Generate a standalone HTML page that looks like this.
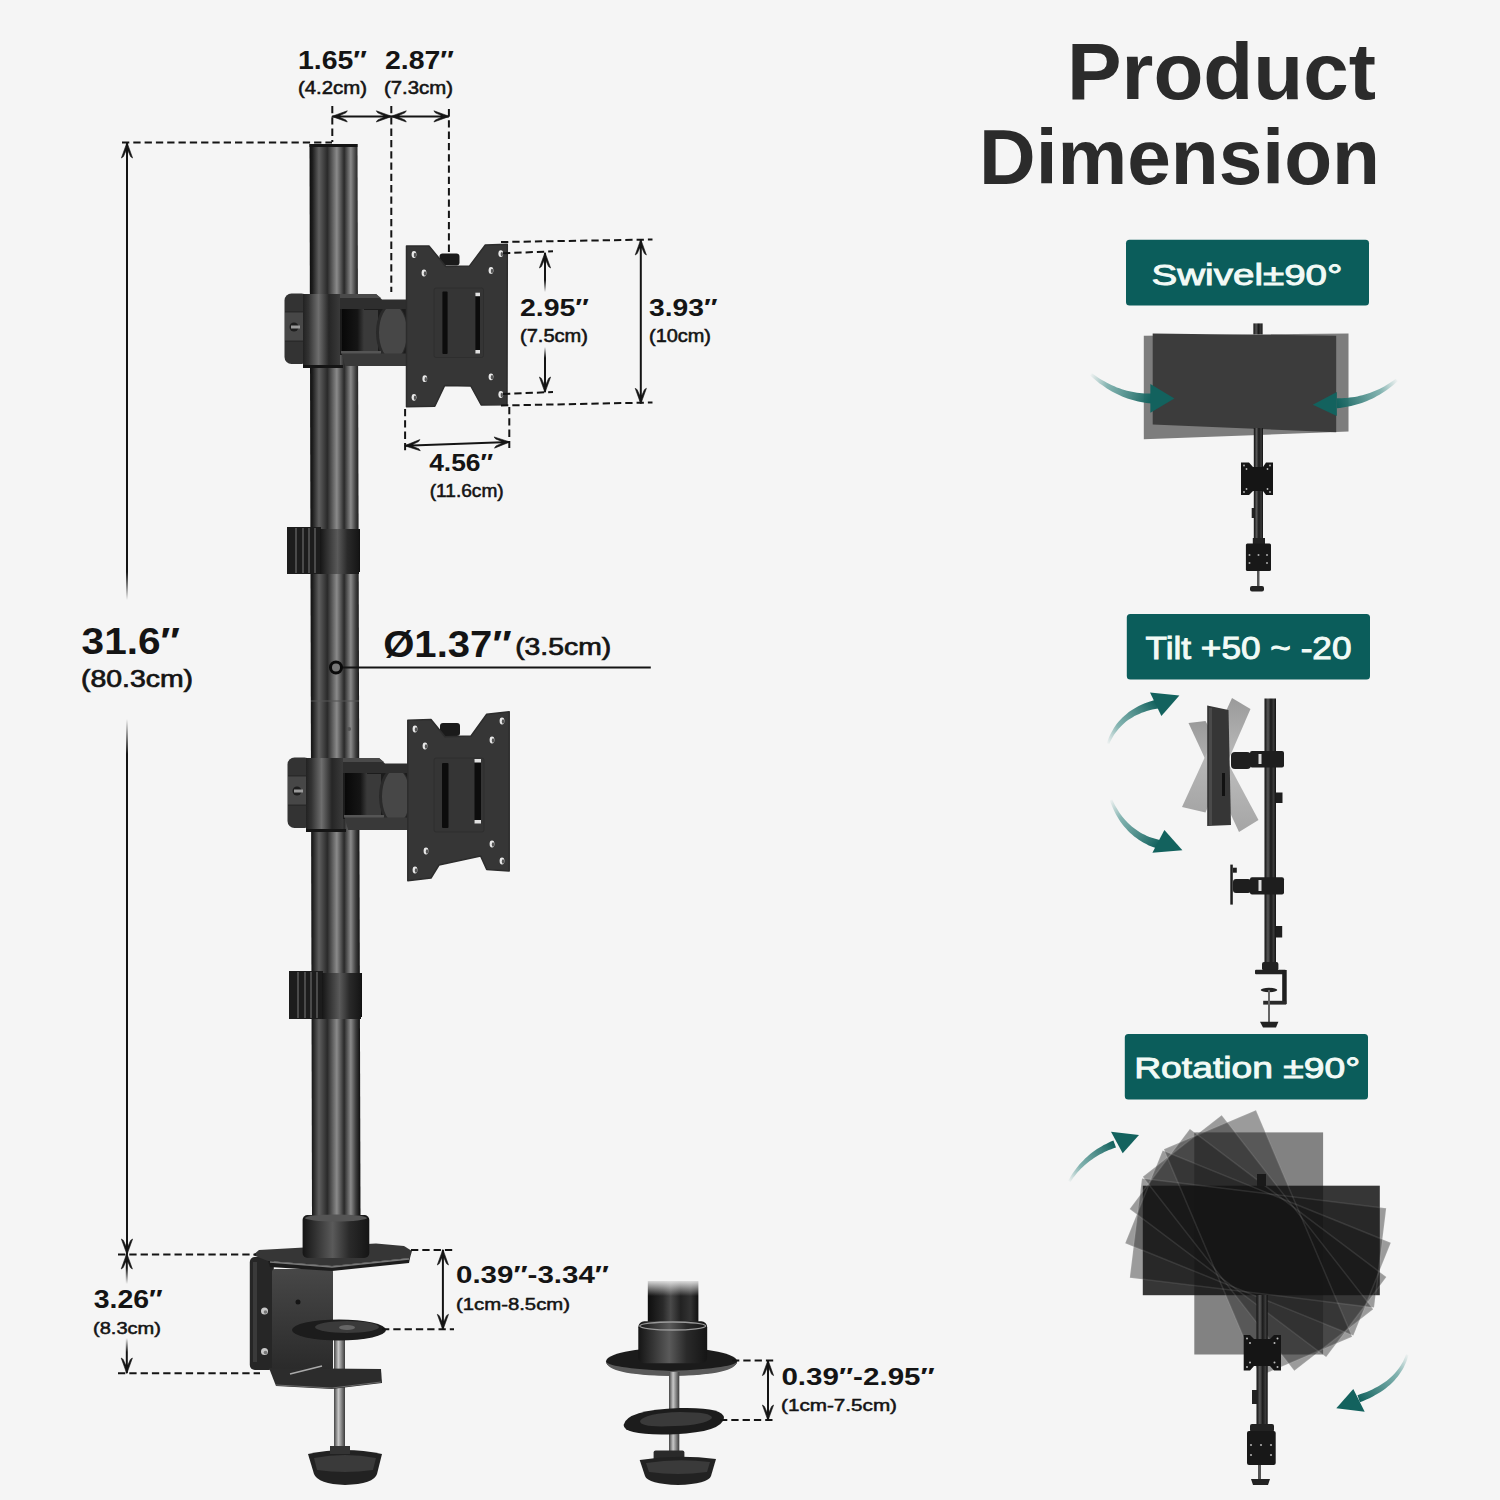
<!DOCTYPE html>
<html><head><meta charset="utf-8"><title>Product Dimension</title>
<style>
html,body{margin:0;padding:0;background:#f5f5f5;}
body{width:1500px;height:1500px;overflow:hidden;position:relative;}
svg{position:absolute;left:0;top:0;display:block;}
text{font-family:"Liberation Sans",sans-serif;}
</style></head><body>
<svg width="1500" height="1500" viewBox="0 0 1500 1500">
<defs>
<linearGradient id="pole" x1="0" x2="1" y1="0" y2="0">
 <stop offset="0" stop-color="#0c0c0c"/><stop offset="0.06" stop-color="#1e1e1e"/>
 <stop offset="0.185" stop-color="#5f5f5f"/><stop offset="0.35" stop-color="#2a2a2a"/>
 <stop offset="0.535" stop-color="#8a8a8a"/><stop offset="0.68" stop-color="#2a2a2a"/>
 <stop offset="0.81" stop-color="#8a8a8a"/><stop offset="0.91" stop-color="#3c3c3c"/><stop offset="1" stop-color="#0a0a0a"/>
</linearGradient>
<linearGradient id="cyl" x1="0" x2="1" y1="0" y2="0">
 <stop offset="0" stop-color="#151515"/><stop offset="0.2" stop-color="#333"/>
 <stop offset="0.45" stop-color="#5a5a5a"/><stop offset="0.7" stop-color="#2a2a2a"/>
 <stop offset="1" stop-color="#151515"/>
</linearGradient>
<linearGradient id="ln1" gradientUnits="userSpaceOnUse" x1="0" y1="572" x2="0" y2="600"><stop offset="0" stop-color="#141414"/><stop offset="1" stop-color="#141414" stop-opacity="0"/></linearGradient>
<linearGradient id="ln2" gradientUnits="userSpaceOnUse" x1="0" y1="719" x2="0" y2="754"><stop offset="0" stop-color="#141414" stop-opacity="0"/><stop offset="1" stop-color="#141414"/></linearGradient>
<linearGradient id="blk" x1="0" x2="1" y1="0" y2="0"><stop offset="0" stop-color="#080808"/><stop offset="0.7" stop-color="#151515"/><stop offset="1" stop-color="#3a3a3a"/></linearGradient>
<linearGradient id="cyl2" x1="0" x2="1" y1="0" y2="0"><stop offset="0" stop-color="#222"/><stop offset="0.15" stop-color="#333"/><stop offset="0.42" stop-color="#6e6e6e"/><stop offset="0.7" stop-color="#262626"/><stop offset="1" stop-color="#3a3a3a"/></linearGradient>
<linearGradient id="spole" x1="0" x2="1" y1="0" y2="0"><stop offset="0" stop-color="#0e0e0e"/><stop offset="0.3" stop-color="#575757"/><stop offset="0.55" stop-color="#1a1a1a"/><stop offset="0.8" stop-color="#3a3a3a"/><stop offset="1" stop-color="#101010"/></linearGradient>
<linearGradient id="fadeV" x1="0" x2="0" y1="0" y2="1">
 <stop offset="0" stop-color="#f5f5f5" stop-opacity="1"/><stop offset="1" stop-color="#f5f5f5" stop-opacity="0"/>
</linearGradient>
<linearGradient id="tealL" x1="0" x2="1" y1="0" y2="0">
 <stop offset="0" stop-color="#1a6b68" stop-opacity="0"/><stop offset="0.6" stop-color="#1a6b68" stop-opacity="0.85"/><stop offset="1" stop-color="#11605d"/>
</linearGradient>
<linearGradient id="tealR" x1="1" x2="0" y1="0" y2="0">
 <stop offset="0" stop-color="#1a6b68" stop-opacity="0"/><stop offset="0.6" stop-color="#1a6b68" stop-opacity="0.85"/><stop offset="1" stop-color="#11605d"/>
</linearGradient>
</defs>
<rect width="1500" height="1500" fill="#f5f5f5"/>

<polygon points="309.5,144 357.5,144 360.5,1218 312,1218" fill="url(#pole)"/>
<line x1="311" y1="701" x2="359" y2="701" stroke="#555" stroke-width="1.2"/>
<rect x="309.5" y="144" width="48" height="3" fill="#141414"/>
<circle cx="349" cy="729" r="2" fill="#555"/>
<g transform="translate(0,0)"><rect x="284.5" y="293.5" width="24" height="70.5" rx="7" fill="#333"/><rect x="285" y="312" width="20" height="29" fill="#474747"/><rect x="285" y="311" width="20" height="1.5" fill="#2a2a2a"/><rect x="285" y="340.5" width="20" height="1.5" fill="#2a2a2a"/><circle cx="294" cy="327" r="4.5" fill="#1e1e1e"/><rect x="291" y="325.5" width="9" height="3" fill="#9a9a9a"/><rect x="338" y="305" width="69" height="50" fill="#1c1c1c"/><rect x="342" y="308" width="22" height="44" fill="url(#blk)"/><rect x="364" y="310" width="14" height="41" fill="#3a3a3a"/><ellipse cx="392" cy="332.5" rx="16" ry="29" fill="#2a2a2a"/><ellipse cx="393" cy="332.5" rx="14" ry="27" fill="#474747"/><polygon points="334,294 376,294 382,299.5 407,299.5 407,309 340,309" fill="#2e2e2e"/><polygon points="334,294 376,294 381,298 338,298" fill="#4a4a4a"/><polygon points="341,351 375,351 381,353.5 407,353.5 407,366 345,366" fill="#393939"/><rect x="341" y="351" width="40" height="2.5" fill="#555"/><rect x="303" y="294" width="37" height="73" fill="url(#cyl2)"/><rect x="303" y="365" width="40" height="3" fill="#151515"/></g>
<g transform="translate(3,464)"><rect x="284.5" y="293.5" width="24" height="70.5" rx="7" fill="#333"/><rect x="285" y="312" width="20" height="29" fill="#474747"/><rect x="285" y="311" width="20" height="1.5" fill="#2a2a2a"/><rect x="285" y="340.5" width="20" height="1.5" fill="#2a2a2a"/><circle cx="294" cy="327" r="4.5" fill="#1e1e1e"/><rect x="291" y="325.5" width="9" height="3" fill="#9a9a9a"/><rect x="338" y="305" width="69" height="50" fill="#1c1c1c"/><rect x="342" y="308" width="22" height="44" fill="url(#blk)"/><rect x="364" y="310" width="14" height="41" fill="#3a3a3a"/><ellipse cx="392" cy="332.5" rx="16" ry="29" fill="#2a2a2a"/><ellipse cx="393" cy="332.5" rx="14" ry="27" fill="#474747"/><polygon points="334,294 376,294 382,299.5 407,299.5 407,309 340,309" fill="#2e2e2e"/><polygon points="334,294 376,294 381,298 338,298" fill="#4a4a4a"/><polygon points="341,351 375,351 381,353.5 407,353.5 407,366 345,366" fill="#393939"/><rect x="341" y="351" width="40" height="2.5" fill="#555"/><rect x="303" y="294" width="37" height="73" fill="url(#cyl2)"/><rect x="303" y="365" width="40" height="3" fill="#151515"/></g>
<rect x="439.5" y="253.5" width="20" height="12" rx="3" fill="#1a1a1a"/>
<polygon points="406.5,246 429,246 445.8,266.4 469.6,265.9 485.3,245 507.3,244.3 507,404.8 481.2,405 470.8,386 444.7,385.4 434.8,406.3 406.5,406.7" fill="#363636" stroke="#2c2c2c" stroke-width="1.5" stroke-linejoin="round"/>
<rect x="434" y="288" width="49.5" height="69.5" rx="2" fill="#353535" stroke="#2e2e2e" stroke-width="1"/>
<ellipse cx="414" cy="254.5" rx="2.4" ry="3.4" fill="#e8e8e8"/><ellipse cx="415" cy="255.0" rx="1.2" ry="2.2" fill="#555"/>
<ellipse cx="424" cy="273" rx="2.4" ry="3.4" fill="#e8e8e8"/><ellipse cx="425" cy="273.5" rx="1.2" ry="2.2" fill="#555"/>
<ellipse cx="500.8" cy="253.6" rx="2.4" ry="3.4" fill="#e8e8e8"/><ellipse cx="501.8" cy="254.1" rx="1.2" ry="2.2" fill="#555"/>
<ellipse cx="491" cy="270.4" rx="2.4" ry="3.4" fill="#e8e8e8"/><ellipse cx="492" cy="270.9" rx="1.2" ry="2.2" fill="#555"/>
<ellipse cx="424.8" cy="378.7" rx="2.4" ry="3.4" fill="#e8e8e8"/><ellipse cx="425.8" cy="379.2" rx="1.2" ry="2.2" fill="#555"/>
<ellipse cx="491" cy="376.8" rx="2.4" ry="3.4" fill="#e8e8e8"/><ellipse cx="492" cy="377.3" rx="1.2" ry="2.2" fill="#555"/>
<ellipse cx="414" cy="397.3" rx="2.4" ry="3.4" fill="#e8e8e8"/><ellipse cx="415" cy="397.8" rx="1.2" ry="2.2" fill="#555"/>
<ellipse cx="500.8" cy="394.5" rx="2.4" ry="3.4" fill="#e8e8e8"/><ellipse cx="501.8" cy="395.0" rx="1.2" ry="2.2" fill="#555"/>
<rect x="442.4" y="291.4" width="5.2000000000000455" height="62.60000000000002" rx="1" fill="#0c0c0c"/>
<rect x="475.4" y="293.7" width="4.600000000000023" height="59.30000000000001" rx="1" fill="#0c0c0c"/>
<rect x="475.4" y="292.7" width="4.600000000000023" height="3.5" fill="#e0e0e0"/><rect x="475.4" y="350" width="4.600000000000023" height="3.5" fill="#e0e0e0"/>
<rect x="440" y="723" width="20" height="13" rx="3" fill="#1a1a1a"/>
<polygon points="407.8,720.3 431,719.5 445,736.8 471,736 486.7,714.3 509.2,711.7 509.2,871.1 486.7,869.4 480.6,856 439,865 431,878 407.8,880.7" fill="#363636" stroke="#2c2c2c" stroke-width="1.5" stroke-linejoin="round"/>
<rect x="434" y="758" width="50" height="74" rx="2" fill="#353535" stroke="#2e2e2e" stroke-width="1"/>
<ellipse cx="415" cy="729" rx="2.4" ry="3.4" fill="#e8e8e8"/><ellipse cx="416" cy="729.5" rx="1.2" ry="2.2" fill="#555"/>
<ellipse cx="425" cy="746" rx="2.4" ry="3.4" fill="#e8e8e8"/><ellipse cx="426" cy="746.5" rx="1.2" ry="2.2" fill="#555"/>
<ellipse cx="502" cy="721" rx="2.4" ry="3.4" fill="#e8e8e8"/><ellipse cx="503" cy="721.5" rx="1.2" ry="2.2" fill="#555"/>
<ellipse cx="492" cy="740" rx="2.4" ry="3.4" fill="#e8e8e8"/><ellipse cx="493" cy="740.5" rx="1.2" ry="2.2" fill="#555"/>
<ellipse cx="426" cy="851" rx="2.4" ry="3.4" fill="#e8e8e8"/><ellipse cx="427" cy="851.5" rx="1.2" ry="2.2" fill="#555"/>
<ellipse cx="492" cy="844" rx="2.4" ry="3.4" fill="#e8e8e8"/><ellipse cx="493" cy="844.5" rx="1.2" ry="2.2" fill="#555"/>
<ellipse cx="415" cy="870" rx="2.4" ry="3.4" fill="#e8e8e8"/><ellipse cx="416" cy="870.5" rx="1.2" ry="2.2" fill="#555"/>
<ellipse cx="502" cy="861" rx="2.4" ry="3.4" fill="#e8e8e8"/><ellipse cx="503" cy="861.5" rx="1.2" ry="2.2" fill="#555"/>
<rect x="442" y="763" width="6.5" height="65" rx="1" fill="#0c0c0c"/>
<rect x="474.5" y="760" width="6.5" height="63" rx="1" fill="#0c0c0c"/>
<rect x="474.5" y="759" width="6.5" height="3.5" fill="#e0e0e0"/><rect x="474.5" y="820" width="6.5" height="3.5" fill="#e0e0e0"/>
<rect x="287" y="527" width="34" height="47" fill="#1c1c1c"/>
<rect x="295" y="528" width="2" height="45" fill="#4a4a4a"/>
<rect x="302" y="528" width="2" height="45" fill="#4a4a4a"/>
<rect x="308" y="528" width="2" height="45" fill="#4a4a4a"/>
<rect x="314" y="528" width="2" height="45" fill="#4a4a4a"/>
<rect x="357" y="529" width="3" height="43" fill="#111"/>
<rect x="320" y="529" width="39" height="45" fill="url(#cyl)"/>
<rect x="289" y="971" width="34" height="48" fill="#1c1c1c"/>
<rect x="297" y="972" width="2" height="46" fill="#4a4a4a"/>
<rect x="304" y="972" width="2" height="46" fill="#4a4a4a"/>
<rect x="310" y="972" width="2" height="46" fill="#4a4a4a"/>
<rect x="316" y="972" width="2" height="46" fill="#4a4a4a"/>
<rect x="359" y="973" width="3" height="44" fill="#111"/>
<rect x="322" y="973" width="39" height="46" fill="url(#cyl)"/>
<linearGradient id="rod" x1="0" x2="1" y1="0" y2="0"><stop offset="0" stop-color="#444"/><stop offset="0.4" stop-color="#c8c8c8"/><stop offset="1" stop-color="#3a3a3a"/></linearGradient>
<linearGradient id="plate" x1="0" x2="0" y1="0" y2="1"><stop offset="0" stop-color="#474747"/><stop offset="1" stop-color="#2a2a2a"/></linearGradient>
<rect x="249.8" y="1257" width="24" height="113" rx="5" fill="#262626"/>
<rect x="253" y="1262" width="4" height="100" fill="#3a3a3a"/>
<rect x="272" y="1269" width="61" height="102" rx="3" fill="url(#plate)"/>
<circle cx="298" cy="1302" r="2.5" fill="#151515"/>
<circle cx="264.5" cy="1311" r="3.5" fill="#c8c8c8"/><circle cx="265.5" cy="1312" r="1.8" fill="#777"/>
<circle cx="264.5" cy="1351.5" r="3.5" fill="#c8c8c8"/><circle cx="265.5" cy="1352.5" r="1.8" fill="#777"/>
<polygon points="253,1255 259,1250 376,1243.5 404,1246 412,1251 410,1258 332,1266 268,1261" fill="#363636"/>
<polygon points="268,1261 332,1266 410,1258 409,1263 332,1271 270,1267" fill="#1c1c1c"/>
<polyline points="270,1262 332,1267 409,1259" fill="none" stroke="#7a7a7a" stroke-width="1.3"/>
<rect x="302.6" y="1215" width="66.7" height="43" rx="5" fill="url(#cyl)"/>
<ellipse cx="336" cy="1218" rx="31" ry="3.5" fill="#555"/>
<rect x="334" y="1338" width="11" height="120" fill="url(#rod)"/>
<polygon points="269,1368 381,1369 382,1383 332,1389 276,1386" fill="#2c2c2c"/>
<polyline points="276,1385 332,1388 381,1382" fill="none" stroke="#6a6a6a" stroke-width="1.2"/>
<line x1="290" y1="1374" x2="322" y2="1366" stroke="#aaa" stroke-width="1.5"/>
<ellipse cx="339" cy="1330" rx="47" ry="10.5" fill="#1c1c1c"/><ellipse cx="347" cy="1327" rx="32" ry="6" fill="#3a3a3a"/><ellipse cx="347" cy="1327.5" rx="8" ry="2.5" fill="#666"/>
<path d="M308,1454 Q345,1446 382,1454 L377,1474 Q374,1484 345,1485 Q318,1484 314,1474 Z" fill="#222"/>
<path d="M314,1458 Q345,1452 376,1458 L373,1470 Q345,1474 317,1470 Z" fill="#3a3a3a"/>
<rect x="330" y="1446" width="20" height="8" fill="#333"/>
<linearGradient id="gpole" x1="0" x2="1" y1="0" y2="0"><stop offset="0" stop-color="#0e0e0e"/><stop offset="0.3" stop-color="#2a2a2a"/><stop offset="0.45" stop-color="#4a4a4a"/><stop offset="0.65" stop-color="#222"/><stop offset="0.85" stop-color="#333"/><stop offset="1" stop-color="#111"/></linearGradient>
<linearGradient id="gfade" x1="0" x2="0" y1="0" y2="1"><stop offset="0" stop-color="#f5f5f5"/><stop offset="1" stop-color="#f5f5f5" stop-opacity="0"/></linearGradient>
<rect x="647.8" y="1281" width="50.6" height="45" fill="url(#gpole)"/>
<rect x="644" y="1279" width="58" height="17" fill="url(#gfade)"/>
<ellipse cx="671.6" cy="1361.6" rx="65.6" ry="14" fill="#1b1b1b"/>
<path d="M606,1361 Q606,1375 671,1376 Q737,1375 737,1361 Q737,1368 671,1371 Q606,1368 606,1361 Z" fill="#5a5a5a"/>
<rect x="638.3" y="1321.3" width="68.9" height="42" rx="6" fill="url(#cyl)"/>
<ellipse cx="672.7" cy="1326" rx="33" ry="4" fill="none" stroke="#9a9a9a" stroke-width="1.3"/>
<rect x="669" y="1372" width="10.3" height="82" fill="url(#rod)"/>
<path d="M623.6,1425 Q626,1410 680,1408 Q724,1407 724,1418 Q722,1432 675,1434.2 Q624,1436 623.6,1425 Z" fill="#1c1c1c"/>
<path d="M640,1421 Q645,1413 680,1412 Q712,1412 712,1418 Q705,1425 675,1426 Q640,1428 640,1421 Z" fill="#3a3a3a"/>
<rect x="653.6" y="1450.4" width="30.8" height="10.2" rx="2" fill="#2a2a2a"/>
<path d="M639.7,1460 Q678,1454 716,1459 L711,1476 Q708,1484 678,1485 Q648,1484 645,1476 Z" fill="#222"/>
<path d="M646,1463 Q678,1458 710,1462 L707,1472 Q678,1476 649,1472 Z" fill="#3a3a3a"/>
<line x1="122" y1="142.5" x2="332" y2="142.5" stroke="#141414" stroke-width="2" stroke-dasharray="7.3 4"/>
<line x1="332.3" y1="106" x2="332.3" y2="142" stroke="#141414" stroke-width="2" stroke-dasharray="7.3 4"/>
<line x1="391.3" y1="106" x2="391.3" y2="292" stroke="#141414" stroke-width="2" stroke-dasharray="7.3 4"/>
<line x1="448.9" y1="109" x2="448.9" y2="252" stroke="#141414" stroke-width="2" stroke-dasharray="7.3 4"/>
<line x1="332.3" y1="116.4" x2="391.3" y2="116.4" stroke="#141414" stroke-width="2"/>
<polygon points="391.90,116.40 376.30,110.80 377.70,112.80 383.30,115.30 383.30,117.50 377.70,120.00 376.30,122.00" fill="#141414" stroke="#141414" stroke-width="0.6" stroke-linejoin="round"/>
<polygon points="331.70,116.40 347.30,122.00 345.90,120.00 340.30,117.50 340.30,115.30 345.90,112.80 347.30,110.80" fill="#141414" stroke="#141414" stroke-width="0.6" stroke-linejoin="round"/>
<line x1="391.3" y1="116.4" x2="448.9" y2="116.4" stroke="#141414" stroke-width="2"/>
<polygon points="449.50,116.40 433.90,110.80 435.30,112.80 440.90,115.30 440.90,117.50 435.30,120.00 433.90,122.00" fill="#141414" stroke="#141414" stroke-width="0.6" stroke-linejoin="round"/>
<polygon points="390.70,116.40 406.30,122.00 404.90,120.00 399.30,117.50 399.30,115.30 404.90,112.80 406.30,110.80" fill="#141414" stroke="#141414" stroke-width="0.6" stroke-linejoin="round"/>
<rect x="126" y="143" width="2" height="457" fill="url(#ln1)"/>
<rect x="126" y="719" width="2" height="535" fill="url(#ln2)"/>
<polygon points="127.00,142.40 121.40,158.00 123.40,156.60 125.90,151.00 128.10,151.00 130.60,156.60 132.60,158.00" fill="#141414" stroke="#141414" stroke-width="0.6" stroke-linejoin="round"/>
<polygon points="127.00,1254.60 132.60,1239.00 130.60,1240.40 128.10,1246.00 125.90,1246.00 123.40,1240.40 121.40,1239.00" fill="#141414" stroke="#141414" stroke-width="0.6" stroke-linejoin="round"/>
<line x1="501" y1="242" x2="652.5" y2="239.5" stroke="#141414" stroke-width="2" stroke-dasharray="7.3 4"/>
<line x1="501" y1="405.5" x2="652.5" y2="402.5" stroke="#141414" stroke-width="2" stroke-dasharray="7.3 4"/>
<line x1="503" y1="253.3" x2="553" y2="251.3" stroke="#141414" stroke-width="2" stroke-dasharray="7.3 4"/>
<line x1="503" y1="394" x2="553" y2="392" stroke="#141414" stroke-width="2" stroke-dasharray="7.3 4"/>
<linearGradient id="ln5" gradientUnits="userSpaceOnUse" x1="0" y1="280" x2="0" y2="292"><stop offset="0" stop-color="#141414"/><stop offset="1" stop-color="#141414" stop-opacity="0"/></linearGradient>
<linearGradient id="ln6" gradientUnits="userSpaceOnUse" x1="0" y1="347" x2="0" y2="358"><stop offset="0" stop-color="#141414" stop-opacity="0"/><stop offset="1" stop-color="#141414"/></linearGradient>
<rect x="544" y="253" width="2" height="39" fill="url(#ln5)"/>
<rect x="544" y="347" width="2" height="45" fill="url(#ln6)"/>
<polygon points="545.00,252.40 539.40,268.00 541.40,266.60 543.90,261.00 546.10,261.00 548.60,266.60 550.60,268.00" fill="#141414" stroke="#141414" stroke-width="0.6" stroke-linejoin="round"/>
<polygon points="545.00,392.60 550.60,377.00 548.60,378.40 546.10,384.00 543.90,384.00 541.40,378.40 539.40,377.00" fill="#141414" stroke="#141414" stroke-width="0.6" stroke-linejoin="round"/>
<line x1="640.8" y1="240" x2="640.8" y2="403.3" stroke="#141414" stroke-width="2"/>
<polygon points="640.80,403.90 646.40,388.30 644.40,389.70 641.90,395.30 639.70,395.30 637.20,389.70 635.20,388.30" fill="#141414" stroke="#141414" stroke-width="0.6" stroke-linejoin="round"/>
<polygon points="640.80,239.40 635.20,255.00 637.20,253.60 639.70,248.00 641.90,248.00 644.40,253.60 646.40,255.00" fill="#141414" stroke="#141414" stroke-width="0.6" stroke-linejoin="round"/>
<line x1="405.1" y1="409" x2="405.1" y2="451" stroke="#141414" stroke-width="2" stroke-dasharray="7.3 4"/>
<line x1="509.3" y1="407" x2="509.3" y2="448" stroke="#141414" stroke-width="2" stroke-dasharray="7.3 4"/>
<line x1="405.1" y1="445.7" x2="509.3" y2="442" stroke="#141414" stroke-width="2"/>
<polygon points="509.90,441.98 494.11,436.94 495.58,438.88 501.27,441.18 501.34,443.38 495.84,446.08 494.51,448.13" fill="#141414" stroke="#141414" stroke-width="0.6" stroke-linejoin="round"/>
<polygon points="404.50,445.72 420.29,450.76 418.82,448.82 413.13,446.52 413.06,444.32 418.56,441.62 419.89,439.57" fill="#141414" stroke="#141414" stroke-width="0.6" stroke-linejoin="round"/>
<line x1="336" y1="667.6" x2="650.8" y2="667.6" stroke="#141414" stroke-width="2"/>
<circle cx="336" cy="667.5" r="5.5" fill="#777" stroke="#0a0a0a" stroke-width="3"/>
<line x1="118" y1="1254.4" x2="256" y2="1254.4" stroke="#141414" stroke-width="2" stroke-dasharray="7.3 4"/>
<line x1="118" y1="1373.2" x2="260" y2="1373.2" stroke="#141414" stroke-width="2" stroke-dasharray="7.3 4"/>
<linearGradient id="ln3" gradientUnits="userSpaceOnUse" x1="0" y1="1268" x2="0" y2="1284"><stop offset="0" stop-color="#141414"/><stop offset="1" stop-color="#141414" stop-opacity="0"/></linearGradient>
<linearGradient id="ln4" gradientUnits="userSpaceOnUse" x1="0" y1="1338" x2="0" y2="1352"><stop offset="0" stop-color="#141414" stop-opacity="0"/><stop offset="1" stop-color="#141414"/></linearGradient>
<rect x="125.8" y="1254" width="2" height="30" fill="url(#ln3)"/>
<rect x="125.8" y="1338" width="2" height="35" fill="url(#ln4)"/>
<polygon points="126.80,1253.40 121.20,1269.00 123.20,1267.60 125.70,1262.00 127.90,1262.00 130.40,1267.60 132.40,1269.00" fill="#141414" stroke="#141414" stroke-width="0.6" stroke-linejoin="round"/>
<polygon points="126.80,1373.60 132.40,1358.00 130.40,1359.40 127.90,1365.00 125.70,1365.00 123.20,1359.40 121.20,1358.00" fill="#141414" stroke="#141414" stroke-width="0.6" stroke-linejoin="round"/>
<line x1="411" y1="1250" x2="454" y2="1250" stroke="#141414" stroke-width="2" stroke-dasharray="7.3 4"/>
<line x1="382" y1="1329.3" x2="454" y2="1329.3" stroke="#141414" stroke-width="2" stroke-dasharray="7.3 4"/>
<line x1="442.9" y1="1250" x2="442.9" y2="1329.3" stroke="#141414" stroke-width="2"/>
<polygon points="442.90,1329.90 448.50,1314.30 446.50,1315.70 444.00,1321.30 441.80,1321.30 439.30,1315.70 437.30,1314.30" fill="#141414" stroke="#141414" stroke-width="0.6" stroke-linejoin="round"/>
<polygon points="442.90,1249.40 437.30,1265.00 439.30,1263.60 441.80,1258.00 444.00,1258.00 446.50,1263.60 448.50,1265.00" fill="#141414" stroke="#141414" stroke-width="0.6" stroke-linejoin="round"/>
<line x1="732" y1="1360.6" x2="774" y2="1360.6" stroke="#141414" stroke-width="2" stroke-dasharray="7.3 4"/>
<line x1="720" y1="1420" x2="774" y2="1420" stroke="#141414" stroke-width="2" stroke-dasharray="7.3 4"/>
<line x1="768" y1="1360.6" x2="768" y2="1420" stroke="#141414" stroke-width="2"/>
<polygon points="768.00,1420.60 773.60,1405.00 771.60,1406.40 769.10,1412.00 766.90,1412.00 764.40,1406.40 762.40,1405.00" fill="#141414" stroke="#141414" stroke-width="0.6" stroke-linejoin="round"/>
<polygon points="768.00,1360.00 762.40,1375.60 764.40,1374.20 766.90,1368.60 769.10,1368.60 771.60,1374.20 773.60,1375.60" fill="#141414" stroke="#141414" stroke-width="0.6" stroke-linejoin="round"/>
<text x="298" y="68.7" font-size="26" font-weight="bold" fill="#141414" text-anchor="start" textLength="69" lengthAdjust="spacingAndGlyphs">1.65″</text>
<text x="298" y="94" font-size="18" font-weight="normal" fill="#141414" text-anchor="start" textLength="69" lengthAdjust="spacingAndGlyphs" stroke="#141414" stroke-width="0.54">(4.2cm)</text>
<text x="385" y="68.7" font-size="26" font-weight="bold" fill="#141414" text-anchor="start" textLength="69" lengthAdjust="spacingAndGlyphs">2.87″</text>
<text x="384" y="94" font-size="18" font-weight="normal" fill="#141414" text-anchor="start" textLength="69" lengthAdjust="spacingAndGlyphs" stroke="#141414" stroke-width="0.54">(7.3cm)</text>
<text x="520" y="315.8" font-size="24" font-weight="bold" fill="#141414" text-anchor="start" textLength="69" lengthAdjust="spacingAndGlyphs">2.95″</text>
<text x="520" y="341.5" font-size="18" font-weight="normal" fill="#141414" text-anchor="start" textLength="68" lengthAdjust="spacingAndGlyphs" stroke="#141414" stroke-width="0.54">(7.5cm)</text>
<text x="649" y="315.8" font-size="24" font-weight="bold" fill="#141414" text-anchor="start" textLength="68.5" lengthAdjust="spacingAndGlyphs">3.93″</text>
<text x="649" y="341.5" font-size="18" font-weight="normal" fill="#141414" text-anchor="start" textLength="62" lengthAdjust="spacingAndGlyphs" stroke="#141414" stroke-width="0.54">(10cm)</text>
<text x="429.2" y="471.4" font-size="24" font-weight="bold" fill="#141414" text-anchor="start" textLength="64" lengthAdjust="spacingAndGlyphs">4.56″</text>
<text x="429.7" y="496.6" font-size="17.5" font-weight="normal" fill="#141414" text-anchor="start" textLength="74" lengthAdjust="spacingAndGlyphs" stroke="#141414" stroke-width="0.53">(11.6cm)</text>
<text x="81.6" y="654" font-size="37" font-weight="bold" fill="#141414" text-anchor="start" textLength="98.4" lengthAdjust="spacingAndGlyphs">31.6″</text>
<text x="81" y="687" font-size="23" font-weight="normal" fill="#141414" text-anchor="start" textLength="112" lengthAdjust="spacingAndGlyphs" stroke="#141414" stroke-width="0.69">(80.3cm)</text>
<text x="383.2" y="656.8" font-size="36" font-weight="bold" fill="#141414" text-anchor="start" textLength="128.4" lengthAdjust="spacingAndGlyphs">Ø1.37″</text>
<text x="515.2" y="655" font-size="23" font-weight="normal" fill="#141414" text-anchor="start" textLength="96" lengthAdjust="spacingAndGlyphs" stroke="#141414" stroke-width="0.69">(3.5cm)</text>
<text x="93.7" y="1308.4" font-size="25" font-weight="bold" fill="#141414" text-anchor="start" textLength="69" lengthAdjust="spacingAndGlyphs">3.26″</text>
<text x="93" y="1334" font-size="17" font-weight="normal" fill="#141414" text-anchor="start" textLength="68" lengthAdjust="spacingAndGlyphs" stroke="#141414" stroke-width="0.51">(8.3cm)</text>
<text x="456" y="1283.2" font-size="23" font-weight="bold" fill="#141414" text-anchor="start" textLength="153" lengthAdjust="spacingAndGlyphs">0.39″-3.34″</text>
<text x="456" y="1310" font-size="17" font-weight="normal" fill="#141414" text-anchor="start" textLength="114" lengthAdjust="spacingAndGlyphs" stroke="#141414" stroke-width="0.51">(1cm-8.5cm)</text>
<text x="781.4" y="1385.4" font-size="24" font-weight="bold" fill="#141414" text-anchor="start" textLength="153.3" lengthAdjust="spacingAndGlyphs">0.39″-2.95″</text>
<text x="781" y="1411" font-size="17" font-weight="normal" fill="#141414" text-anchor="start" textLength="116" lengthAdjust="spacingAndGlyphs" stroke="#141414" stroke-width="0.51">(1cm-7.5cm)</text>
<text x="1067" y="98.6" font-size="79" font-weight="bold" fill="#2b2b2b" text-anchor="start" textLength="309" lengthAdjust="spacingAndGlyphs">Product</text>
<text x="979" y="184" font-size="78" font-weight="bold" fill="#2b2b2b" text-anchor="start" textLength="401" lengthAdjust="spacingAndGlyphs">Dimension</text>
<rect x="1126" y="239.8" width="243" height="65.80000000000001" rx="3.5" fill="#0b5d5b"/>
<text x="1151.5" y="285.2" font-size="30" font-weight="normal" fill="#f2faf6" text-anchor="start" textLength="191" lengthAdjust="spacingAndGlyphs" stroke="#f2faf6" stroke-width="0.90">Swivel±90°</text>
<rect x="1126.8" y="614" width="243.20000000000005" height="65.39999999999998" rx="3.5" fill="#0b5d5b"/>
<text x="1145.5" y="659" font-size="31" font-weight="normal" fill="#f2faf6" text-anchor="start" textLength="206" lengthAdjust="spacingAndGlyphs" stroke="#f2faf6" stroke-width="0.93">Tilt +50 ~ -20</text>
<rect x="1124.8" y="1034" width="243.20000000000005" height="65.40000000000009" rx="3.5" fill="#0b5d5b"/>
<text x="1134.2" y="1078.2" font-size="30" font-weight="normal" fill="#f2faf6" text-anchor="start" textLength="226" lengthAdjust="spacingAndGlyphs" stroke="#f2faf6" stroke-width="0.90">Rotation ±90°</text>
<polygon points="1143.8,335.7 1348.5,333.4 1348.5,431.5 1143.8,439.2" fill="#7d7d7d"/>
<polygon points="1152.7,333.4 1336.2,335.7 1336.2,432.3 1152.7,424.6" fill="#3c3c3c"/>
<rect x="1253.4" y="323.4" width="9.2" height="11" fill="url(#spole)"/>
<rect x="1253.8" y="428" width="9.2" height="112" fill="url(#spole)"/>
<polygon points="1241,462.4 1249,462.4 1253,467 1263,467 1266,462.4 1273,462.4 1273,495 1266,495 1263,491 1253,491 1249,495 1241,495" fill="#151515"/>
<circle cx="1244" cy="465.5" r="0.9" fill="#bbb"/>
<circle cx="1270" cy="465.5" r="0.9" fill="#bbb"/>
<circle cx="1244" cy="492" r="0.9" fill="#bbb"/>
<circle cx="1270" cy="492" r="0.9" fill="#bbb"/>
<circle cx="1246.5" cy="469" r="0.9" fill="#bbb"/>
<circle cx="1267.5" cy="469" r="0.9" fill="#bbb"/>
<circle cx="1246.5" cy="489" r="0.9" fill="#bbb"/>
<circle cx="1267.5" cy="489" r="0.9" fill="#bbb"/>
<rect x="1251.7" y="508" width="3" height="10" fill="#222"/>
<rect x="1252.8" y="538" width="12.2" height="7" fill="#222"/>
<rect x="1245.9" y="543.5" width="25.1" height="27.5" rx="1.5" fill="#181818"/>
<circle cx="1249.5" cy="555" r="1" fill="#aaa"/>
<circle cx="1258.5" cy="555" r="1" fill="#aaa"/>
<circle cx="1267" cy="555" r="1" fill="#aaa"/>
<circle cx="1249.5" cy="563" r="1" fill="#aaa"/>
<circle cx="1267" cy="563" r="1" fill="#aaa"/>
<rect x="1257" y="571" width="2.5" height="15" fill="#555"/>
<rect x="1250" y="586" width="14" height="5.5" rx="2" fill="#222"/>
<linearGradient id="ag1" gradientUnits="userSpaceOnUse" x1="1091" y1="374.4" x2="1152" y2="398.4"><stop offset="0" stop-color="#5e9e9a" stop-opacity="0.05"/><stop offset="0.3" stop-color="#5e9e9a" stop-opacity="0.75"/><stop offset="1" stop-color="#13625e"/></linearGradient>
<polygon points="1090.1,375.6 1092.4,377.6 1094.8,379.6 1097.2,381.5 1099.6,383.4 1102.0,385.1 1104.5,386.8 1106.9,388.4 1109.4,389.9 1111.9,391.4 1114.4,392.7 1117.0,394.0 1119.6,395.2 1122.1,396.4 1124.8,397.4 1127.4,398.4 1130.0,399.3 1132.7,400.1 1135.4,400.8 1138.1,401.4 1140.8,402.0 1143.6,402.5 1146.3,402.9 1149.1,403.2 1151.9,403.4 1152.1,393.4 1149.5,393.5 1147.0,393.5 1144.5,393.4 1142.0,393.2 1139.5,393.0 1137.0,392.7 1134.5,392.3 1132.0,391.8 1129.5,391.3 1127.0,390.7 1124.4,390.0 1121.9,389.2 1119.4,388.3 1116.9,387.4 1114.4,386.3 1111.9,385.2 1109.4,384.0 1106.9,382.7 1104.4,381.3 1101.9,379.9 1099.4,378.4 1096.9,376.7 1094.4,375.0 1091.9,373.2" fill="url(#ag1)"/>
<polygon points="1150.4,384 1174.4,398.4 1150.4,412.8" fill="#13625e"/>
<linearGradient id="ag2" gradientUnits="userSpaceOnUse" x1="1396.8" y1="380" x2="1336.8" y2="403.2"><stop offset="0" stop-color="#5e9e9a" stop-opacity="0.05"/><stop offset="0.3" stop-color="#5e9e9a" stop-opacity="0.75"/><stop offset="1" stop-color="#13625e"/></linearGradient>
<polygon points="1395.8,378.8 1393.5,380.5 1391.2,382.1 1388.9,383.6 1386.5,385.0 1384.2,386.4 1381.8,387.7 1379.4,388.9 1377.0,390.0 1374.6,391.0 1372.1,392.0 1369.7,392.9 1367.2,393.8 1364.8,394.5 1362.3,395.2 1359.8,395.8 1357.3,396.4 1354.7,396.9 1352.2,397.3 1349.6,397.6 1347.1,397.9 1344.5,398.0 1341.9,398.2 1339.3,398.2 1336.6,398.2 1337.0,408.2 1339.9,407.9 1342.7,407.5 1345.5,407.1 1348.3,406.6 1351.1,406.0 1353.8,405.3 1356.5,404.6 1359.2,403.8 1361.8,402.9 1364.4,402.0 1367.0,400.9 1369.6,399.8 1372.1,398.7 1374.6,397.4 1377.0,396.1 1379.5,394.7 1381.8,393.3 1384.2,391.7 1386.5,390.2 1388.8,388.5 1391.1,386.8 1393.4,385.0 1395.6,383.1 1397.8,381.2" fill="url(#ag2)"/>
<polygon points="1336.8,392 1312.8,404.8 1336.8,416" fill="#13625e"/>
<linearGradient id="tg1" x1="0" y1="0" x2="0" y2="1"><stop offset="0" stop-color="#9a9a9a"/><stop offset="0.5" stop-color="#b8b8b8"/><stop offset="1" stop-color="#a5a5a5"/></linearGradient>
<polygon points="1188.5,723 1205.5,721 1258.5,820 1239,832" fill="url(#tg1)"/>
<polygon points="1232,698 1250.5,709 1205.5,812.5 1182,807" fill="url(#tg1)"/>
<polygon points="1207.2,705.5 1228.5,710 1231,825 1207.2,826" fill="#363636"/>
<rect x="1209" y="708" width="3" height="117" fill="#4a4a4a"/>
<rect x="1222" y="773" width="3" height="23" fill="#111"/>
<rect x="1264.5" y="698.5" width="11.5" height="265" fill="url(#spole)"/>
<rect x="1231" y="752" width="20" height="17" rx="4" fill="#1e1e1e"/>
<rect x="1250" y="751" width="34" height="16.5" rx="2" fill="#1e1e1e"/>
<rect x="1258.5" y="754" width="3" height="10" fill="#ddd"/>
<rect x="1275.5" y="792.5" width="7" height="10.5" fill="#1e1e1e"/>
<rect x="1230.3" y="864.6" width="2.5" height="40" fill="#1e1e1e"/>
<rect x="1232.8" y="867.7" width="4" height="5" fill="#1e1e1e"/>
<rect x="1233" y="879" width="18" height="14" rx="3" fill="#1e1e1e"/>
<rect x="1250" y="877.2" width="34" height="17.2" rx="2" fill="#1e1e1e"/>
<rect x="1258.5" y="880" width="3" height="11" fill="#ddd"/>
<rect x="1276" y="926" width="6.2" height="11.5" fill="#1e1e1e"/>
<rect x="1262" y="962" width="16.4" height="8.4" rx="2" fill="#222"/>
<rect x="1255" y="969.8" width="31" height="4.4" rx="1" fill="#222"/>
<rect x="1282.2" y="970" width="4.5" height="34" fill="#1e1e1e"/>
<rect x="1263.2" y="1000.8" width="23" height="3.8" fill="#2a2a2a"/>
<ellipse cx="1269" cy="990" rx="8.3" ry="2.2" fill="#222"/>
<rect x="1268" y="990" width="2" height="32" fill="#666"/>
<polygon points="1260,1021.7 1278.4,1021.7 1276,1027.4 1263,1027.4" fill="#222"/>
<linearGradient id="ag3" gradientUnits="userSpaceOnUse" x1="1108" y1="743.6" x2="1157.2" y2="704"><stop offset="0" stop-color="#5e9e9a" stop-opacity="0.05"/><stop offset="0.3" stop-color="#5e9e9a" stop-opacity="0.75"/><stop offset="1" stop-color="#13625e"/></linearGradient>
<polygon points="1109.2,744.0 1110.3,741.6 1111.5,739.2 1112.9,736.8 1114.2,734.6 1115.7,732.5 1117.3,730.5 1118.9,728.5 1120.6,726.7 1122.3,724.9 1124.2,723.2 1126.1,721.6 1128.1,720.1 1130.2,718.7 1132.3,717.4 1134.5,716.1 1136.8,714.9 1139.2,713.9 1141.7,712.8 1144.2,711.9 1146.8,711.0 1149.5,710.3 1152.3,709.6 1155.2,708.9 1158.1,708.4 1156.3,699.6 1153.1,700.5 1150.0,701.4 1147.0,702.5 1144.2,703.6 1141.4,704.8 1138.7,706.1 1136.1,707.5 1133.6,709.0 1131.1,710.5 1128.8,712.1 1126.6,713.9 1124.5,715.7 1122.5,717.5 1120.6,719.5 1118.7,721.5 1117.0,723.6 1115.4,725.8 1113.9,728.1 1112.5,730.4 1111.2,732.8 1109.9,735.3 1108.8,737.8 1107.8,740.5 1106.8,743.2" fill="url(#ag3)"/>
<polygon points="1150,692.6 1179.4,695.6 1161.4,716" fill="#13625e"/>
<linearGradient id="ag4" gradientUnits="userSpaceOnUse" x1="1111" y1="800" x2="1158.4" y2="844.3"><stop offset="0" stop-color="#5e9e9a" stop-opacity="0.05"/><stop offset="0.3" stop-color="#5e9e9a" stop-opacity="0.75"/><stop offset="1" stop-color="#13625e"/></linearGradient>
<polygon points="1109.8,800.5 1110.9,803.4 1112.1,806.3 1113.3,809.1 1114.6,811.8 1116.0,814.5 1117.5,817.0 1119.0,819.5 1120.6,821.9 1122.3,824.2 1124.1,826.5 1126.0,828.6 1127.9,830.7 1129.9,832.7 1132.0,834.6 1134.2,836.4 1136.4,838.1 1138.7,839.7 1141.1,841.3 1143.6,842.7 1146.2,844.1 1148.8,845.4 1151.5,846.6 1154.3,847.6 1157.2,848.6 1159.6,840.0 1157.0,839.3 1154.4,838.6 1151.9,837.8 1149.4,836.9 1147.0,835.9 1144.7,834.8 1142.4,833.7 1140.2,832.4 1138.0,831.1 1135.9,829.6 1133.8,828.1 1131.8,826.5 1129.9,824.8 1128.0,823.0 1126.1,821.0 1124.3,819.0 1122.6,817.0 1120.9,814.8 1119.3,812.5 1117.8,810.1 1116.3,807.6 1114.8,805.0 1113.5,802.3 1112.2,799.5" fill="url(#ag4)"/>
<polygon points="1164.4,830 1182.4,850.3 1152.4,852.7" fill="#13625e"/>
<linearGradient id="pg" x1="0" y1="0" x2="1" y2="1"><stop offset="0" stop-color="#6a6a6a"/><stop offset="1" stop-color="#858585"/></linearGradient>
<rect x="1194.3" y="1132.4" width="128.8" height="222.1" fill="#828282"/>
<rect x="1135.0" y="1193.0" width="246.0" height="100.0" fill="#1e1e1e" fill-opacity="0.42" transform="rotate(7 1258 1243)"/>
<rect x="1135.0" y="1193.0" width="246.0" height="100.0" fill="#1e1e1e" fill-opacity="0.42" transform="rotate(22 1258 1243)"/>
<rect x="1135.0" y="1193.0" width="246.0" height="100.0" fill="#1e1e1e" fill-opacity="0.42" transform="rotate(37 1258 1243)"/>
<rect x="1135.0" y="1193.0" width="246.0" height="100.0" fill="#1e1e1e" fill-opacity="0.42" transform="rotate(52 1258 1243)"/>
<rect x="1135.0" y="1193.0" width="246.0" height="100.0" fill="#1e1e1e" fill-opacity="0.42" transform="rotate(67 1258 1243)"/>
<rect x="1142.8" y="1185.7" width="237" height="109.5" fill="#141414" fill-opacity="0.85"/>
<rect x="1135.0" y="1193.0" width="246.0" height="100.0" fill="none" stroke="#ffffff" stroke-opacity="0.1" stroke-width="1.5" transform="rotate(7 1258 1243)"/>
<rect x="1135.0" y="1193.0" width="246.0" height="100.0" fill="none" stroke="#ffffff" stroke-opacity="0.1" stroke-width="1.5" transform="rotate(22 1258 1243)"/>
<rect x="1135.0" y="1193.0" width="246.0" height="100.0" fill="none" stroke="#ffffff" stroke-opacity="0.1" stroke-width="1.5" transform="rotate(37 1258 1243)"/>
<rect x="1135.0" y="1193.0" width="246.0" height="100.0" fill="none" stroke="#ffffff" stroke-opacity="0.1" stroke-width="1.5" transform="rotate(52 1258 1243)"/>
<rect x="1135.0" y="1193.0" width="246.0" height="100.0" fill="none" stroke="#ffffff" stroke-opacity="0.1" stroke-width="1.5" transform="rotate(67 1258 1243)"/>
<rect x="1257" y="1174" width="9" height="12" fill="#1a1a1a"/>
<rect x="1256.5" y="1295" width="11.2" height="140" fill="url(#spole)"/>
<polygon points="1243.7,1335 1250,1335 1254,1339 1270,1339 1274,1335 1281,1335 1281,1370.5 1274,1370.5 1270,1366 1254,1366 1250,1370.5 1243.7,1370.5" fill="#151515"/>
<circle cx="1247" cy="1338.5" r="1" fill="#bbb"/>
<circle cx="1277.5" cy="1338.5" r="1" fill="#bbb"/>
<circle cx="1247" cy="1367" r="1" fill="#bbb"/>
<circle cx="1277.5" cy="1367" r="1" fill="#bbb"/>
<circle cx="1250" cy="1343" r="1" fill="#bbb"/>
<circle cx="1274.5" cy="1343" r="1" fill="#bbb"/>
<circle cx="1250" cy="1362.5" r="1" fill="#bbb"/>
<circle cx="1274.5" cy="1362.5" r="1" fill="#bbb"/>
<rect x="1252" y="1390" width="5" height="14" fill="#222"/>
<rect x="1250" y="1424" width="24" height="8" rx="2" fill="#222"/>
<rect x="1247" y="1431" width="28.7" height="34" rx="2" fill="#181818"/>
<circle cx="1251" cy="1445" r="1.1" fill="#aaa"/>
<circle cx="1261" cy="1445" r="1.1" fill="#aaa"/>
<circle cx="1271" cy="1445" r="1.1" fill="#aaa"/>
<circle cx="1251" cy="1455" r="1.1" fill="#aaa"/>
<circle cx="1271" cy="1455" r="1.1" fill="#aaa"/>
<rect x="1258" y="1465" width="3" height="15" fill="#555"/>
<polygon points="1251,1479 1270,1479 1268,1485 1253,1485" fill="#222"/>
<linearGradient id="ag5" gradientUnits="userSpaceOnUse" x1="1069.3" y1="1181.3" x2="1114.7" y2="1144"><stop offset="0" stop-color="#5e9e9a" stop-opacity="0.05"/><stop offset="0.3" stop-color="#5e9e9a" stop-opacity="0.75"/><stop offset="1" stop-color="#13625e"/></linearGradient>
<polygon points="1070.4,1181.9 1071.8,1179.9 1073.2,1177.8 1074.7,1175.9 1076.2,1174.0 1077.8,1172.1 1079.5,1170.3 1081.1,1168.6 1082.8,1166.9 1084.6,1165.3 1086.4,1163.7 1088.2,1162.2 1090.1,1160.8 1092.0,1159.4 1094.0,1158.0 1096.0,1156.7 1098.0,1155.5 1100.1,1154.3 1102.3,1153.2 1104.4,1152.1 1106.7,1151.1 1108.9,1150.1 1111.2,1149.2 1113.6,1148.3 1116.0,1147.5 1113.4,1140.5 1110.9,1141.6 1108.4,1142.7 1106.1,1143.9 1103.7,1145.1 1101.4,1146.4 1099.2,1147.7 1097.0,1149.1 1094.9,1150.6 1092.8,1152.1 1090.8,1153.6 1088.8,1155.2 1086.9,1156.9 1085.1,1158.6 1083.3,1160.4 1081.5,1162.2 1079.8,1164.0 1078.2,1165.9 1076.6,1167.9 1075.1,1169.9 1073.6,1172.0 1072.2,1174.1 1070.8,1176.2 1069.5,1178.4 1068.2,1180.7" fill="url(#ag5)"/>
<polygon points="1111,1131.7 1139,1135 1122.7,1153.3" fill="#13625e"/>
<linearGradient id="ag6" gradientUnits="userSpaceOnUse" x1="1407.3" y1="1354.7" x2="1358.7" y2="1398.7"><stop offset="0" stop-color="#5e9e9a" stop-opacity="0.05"/><stop offset="0.3" stop-color="#5e9e9a" stop-opacity="0.75"/><stop offset="1" stop-color="#13625e"/></linearGradient>
<polygon points="1406.1,1354.3 1405.2,1356.7 1404.2,1359.1 1403.1,1361.4 1401.9,1363.6 1400.6,1365.7 1399.2,1367.8 1397.7,1369.8 1396.1,1371.8 1394.4,1373.7 1392.7,1375.5 1390.8,1377.3 1388.8,1379.0 1386.8,1380.7 1384.6,1382.3 1382.3,1383.8 1380.0,1385.3 1377.5,1386.7 1374.9,1388.1 1372.3,1389.4 1369.5,1390.7 1366.7,1391.9 1363.7,1393.0 1360.6,1394.1 1357.5,1395.2 1359.9,1402.2 1363.2,1400.9 1366.4,1399.6 1369.5,1398.2 1372.4,1396.7 1375.3,1395.1 1378.0,1393.5 1380.6,1391.9 1383.2,1390.2 1385.6,1388.4 1387.9,1386.5 1390.1,1384.7 1392.2,1382.7 1394.2,1380.7 1396.0,1378.6 1397.8,1376.5 1399.4,1374.3 1400.9,1372.1 1402.4,1369.8 1403.7,1367.5 1404.8,1365.1 1405.9,1362.7 1406.9,1360.2 1407.7,1357.7 1408.5,1355.1" fill="url(#ag6)"/>
<polygon points="1353.3,1389 1336.3,1408.3 1364.7,1411.7" fill="#13625e"/>
</svg></body></html>
